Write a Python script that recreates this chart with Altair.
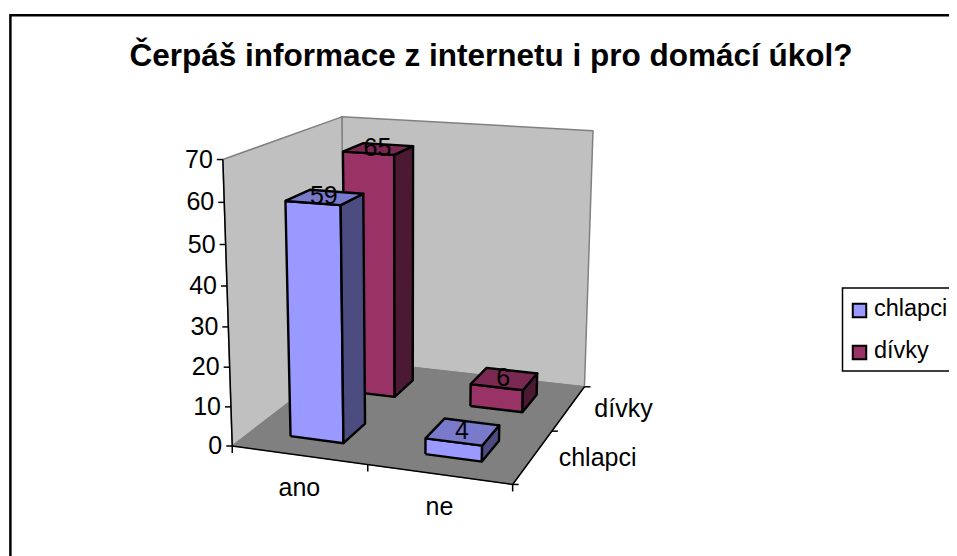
import altair as alt
import numpy as np
import pandas as pd

TITLE = "Čerpáš informace z internetu i pro domácí úkol?"
categories = ["ano", "ne"]
series = ["chlapci", "dívky"]
chlapci = [59, 4]
divky = [65, 6]
y_ticks = [0, 10, 20, 30, 40, 50, 60, 70]
FONT = "Liberation Sans"

front_col = {"chlapci": "#9999FF", "dívky": "#993366"}
top_col = {"chlapci": "#7A7ACC", "dívky": "#7A2952"}
side_col = {"chlapci": "#4C4C80", "dívky": "#4C1933"}

# perspective camera fitted to the chart box: (category, series, value) -> page pixels
box3d = np.array([[0, 0, 0], [2, 0, 0], [2, 2, 0], [0, 2, 0], [0, 0, 70], [0, 2, 70], [2, 2, 70]], float)
box2d = np.array([[233, 446], [512, 485], [585, 386], [344, 360], [222.7, 159], [342, 117], [593, 131]], float)
A, b = [], []
for (X_, Y_, Z_), (u_, v_) in zip(box3d, box2d):
    A.append([X_, Y_, Z_, 1, 0, 0, 0, 0, -u_ * X_, -u_ * Y_, -u_ * Z_])
    b.append(u_)
    A.append([0, 0, 0, 0, X_, Y_, Z_, 1, -v_ * X_, -v_ * Y_, -v_ * Z_])
    b.append(v_)
sol = np.linalg.lstsq(np.array(A), np.array(b), rcond=None)[0]
P = np.append(sol, 1.0).reshape(3, 4)


def proj(c, s, v):
    h = P @ np.array([c, s, v, 1.0])
    return (float(h[0] / h[2]), float(h[1] / h[2]))


X = alt.X("x:Q", axis=None, scale=alt.Scale(domain=[8, 949], nice=False, zero=False))
Y = alt.Y("y:Q", axis=None, scale=alt.Scale(domain=[556, 8], nice=False, zero=False))
layers = []


def poly(pts, fill=None, stroke="black", sw=2.4, close=True):
    pts = list(pts) + ([pts[0]] if close else [])
    df = pd.DataFrame({"x": [p[0] for p in pts], "y": [p[1] for p in pts], "i": list(range(len(pts)))})
    kw = {"stroke": stroke, "strokeWidth": sw, "strokeJoin": "round"}
    if fill:
        kw["fill"] = fill
    layers.append(alt.Chart(df).mark_line(**kw).encode(x=X, y=Y, order="i:Q"))


def text(s, x, y, size=25, align="center", baseline="middle", weight="normal"):
    df = pd.DataFrame({"x": [x], "y": [y], "t": [s]})
    layers.append(
        alt.Chart(df)
        .mark_text(font=FONT, fontSize=size, align=align, baseline=baseline, fontWeight=weight, color="black")
        .encode(x=X, y=Y, text="t:N")
    )


# frame
df = pd.DataFrame({"x": [10.4], "x2": [1000], "y": [15.3], "y2": [600]})
layers.append(alt.Chart(df).mark_rect(fill="white", stroke="black", strokeWidth=2.5).encode(x=X, x2="x2:Q", y=Y, y2="y2:Q"))

# walls and floor
poly([proj(0, 2, 0), proj(2, 2, 0), proj(2, 2, 70), proj(0, 2, 70)], "#C0C0C0", "#808080", 1.5)
poly([proj(0, 0, 0), proj(0, 2, 0), proj(0, 2, 70), proj(0, 0, 70)], "#C0C0C0", "#808080", 1.5)
poly([proj(0, 0, 0), proj(2, 0, 0), proj(2, 2, 0), proj(0, 2, 0)], "#808080", "#808080", 1)

# axes
poly([proj(0, 0, 70), proj(0, 0, 0), proj(2, 0, 0), proj(2, 2, 0)], None, "black", 1.5, close=False)
for t in y_ticks:
    px, py = proj(0, 0, t)
    poly([(px - 6, py), (px, py)], None, "black", 1.5, close=False)
    text(str(t), px - 10, py, align="right")
for c in [0, 1, 2]:
    px, py = proj(c, 0, 0)
    poly([(px, py), (px, py + 7)], None, "black", 1.5, close=False)
for s in [0, 1, 2]:
    px, py = proj(2, s, 0)
    poly([(px, py), (px + 6, py)], None, "black", 1.5, close=False)
for c, name in enumerate(categories):
    px, py = proj(c + 0.5, 0, 0)
    text(name, px + 0.5, py + 32.5)
for s, name in enumerate(series):
    px, py = proj(2, s + 0.5, 0)
    text(name, px + 25.5, py + 1.5, align="left")

# bars, back row first
vals = {"chlapci": chlapci, "dívky": divky}
labels = []
for s in [1, 0]:
    name = series[s]
    for c in [0, 1]:
        v = vals[name][c]
        u0, u1, s0, s1 = c + 0.3, c + 0.7, s + 0.3, s + 0.7
        poly([proj(u0, s0, 0), proj(u1, s0, 0), proj(u1, s0, v), proj(u0, s0, v)], front_col[name])
        poly([proj(u1, s0, 0), proj(u1, s1, 0), proj(u1, s1, v), proj(u1, s0, v)], side_col[name])
        poly([proj(u0, s0, v), proj(u1, s0, v), proj(u1, s1, v), proj(u0, s1, v)], top_col[name])
        labels.append((str(v), *proj(c + 0.5, s + 0.5, v)))
for t, px, py in labels:
    text(t, px - 1, py - 1)

# legend
df = pd.DataFrame({"x": [842.5], "x2": [1000], "y": [288], "y2": [371]})
layers.append(alt.Chart(df).mark_rect(fill="white", stroke="black", strokeWidth=1.5).encode(x=X, x2="x2:Q", y=Y, y2="y2:Q"))
for name, ly in zip(series, [310.5, 352.5]):
    df = pd.DataFrame({"x": [859.5], "y": [ly]})
    layers.append(
        alt.Chart(df).mark_point(shape="square", size=182, filled=True, fill=front_col[name], stroke="black", strokeWidth=2, opacity=1).encode(x=X, y=Y)
    )
    text(name, 874, ly - 2, size=23.5, align="left")

text(TITLE, 491, 66, size=31.5, baseline="alphabetic", weight="bold")

chart = alt.layer(*layers).properties(
    width=941, height=548, padding=0, autosize=alt.AutoSizeParams(type="none")
).configure_view(stroke=None)
chart.save("out.html", embed_options={"renderer": "svg", "actions": False})
